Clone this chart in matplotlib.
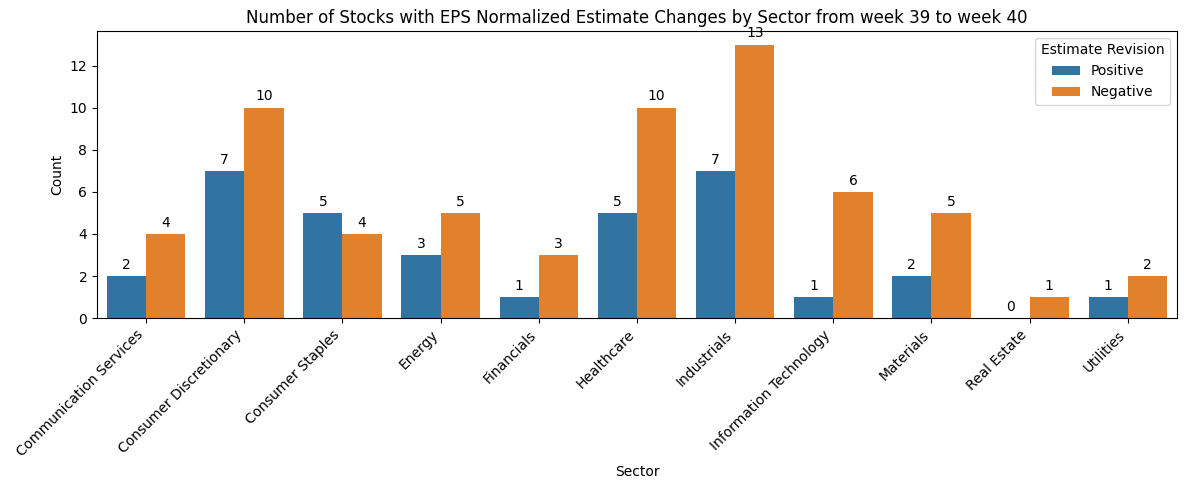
import numpy as np
import pandas as pd
import matplotlib
matplotlib.use("Agg")
import matplotlib.pyplot as plt
import seaborn as sns

sectors = ["Communication Services", "Consumer Discretionary", "Consumer Staples",
           "Energy", "Financials", "Healthcare", "Industrials",
           "Information Technology", "Materials", "Real Estate", "Utilities"]
positive = [2, 7, 5, 3, 1, 5, 7, 1, 2, 0, 1]
negative = [4, 10, 4, 5, 3, 10, 13, 6, 5, 1, 2]

df = pd.DataFrame({
    "Sector": sectors * 2,
    "Count": positive + negative,
    "Estimate Revision": ["Positive"] * len(sectors) + ["Negative"] * len(sectors),
})

fig, ax = plt.subplots(figsize=(11.84, 4.82), dpi=100)
sns.barplot(data=df, x="Sector", y="Count", hue="Estimate Revision", ax=ax)

for c in ax.containers:
    ax.bar_label(c, padding=3, fontsize=10)

ax.set_title("Number of Stocks with EPS Normalized Estimate Changes by Sector from week 39 to week 40",
             fontsize=12)
ax.set_xlabel("Sector")
ax.set_ylabel("Count")
plt.setp(ax.get_xticklabels(), rotation=45, ha="right")
ax.legend(title="Estimate Revision", loc="upper right")

plt.subplots_adjust(left=0.082, right=0.994, top=0.936, bottom=0.34)
plt.savefig("out.png", dpi=100)
